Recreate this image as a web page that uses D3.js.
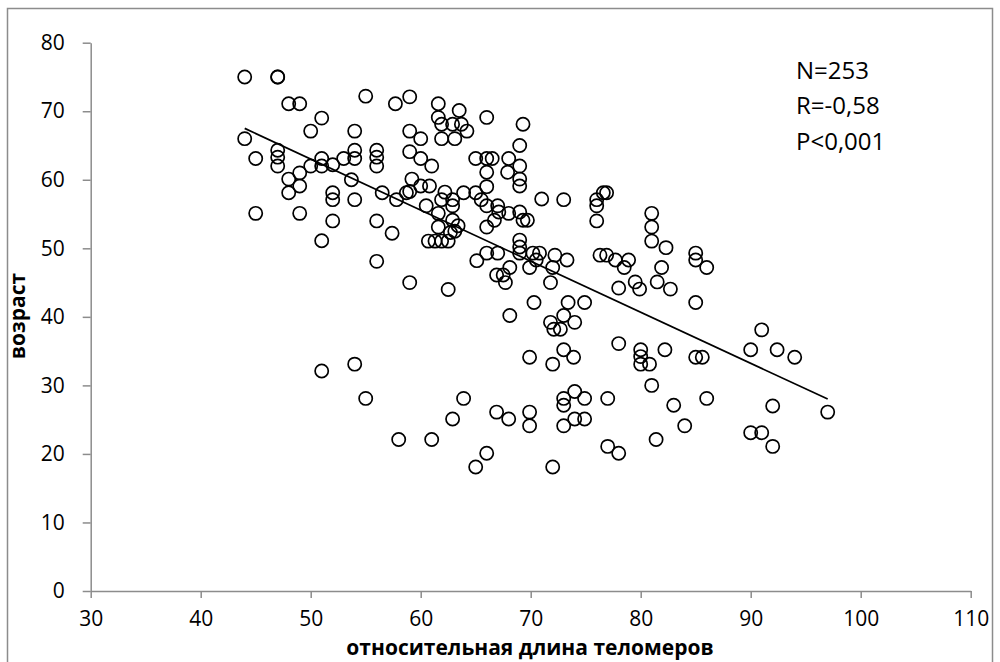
<!DOCTYPE html>
<html>
<head>
<meta charset="utf-8">
<script src="https://cdn.jsdelivr.net/npm/d3@7"></script>
<style>
  body { margin: 0; background: #fff; }
  svg { display: block; }
</style>
</head>
<body>
<svg id="chart" width="1000" height="662"></svg>
<script>

// relative telomere length (x) for every visible point
var telomere = [
  44, 47, 47, 48, 49, 55, 51, 50, 54, 44, 47, 47, 47, 45, 51, 51, 50, 52, 53, 54,
  54, 56, 56, 56, 49, 48, 49, 48, 52, 52, 54, 53.7, 56.5, 45, 49, 52, 56, 51, 56, 59,
  57.7, 61.6, 63.5, 66, 61.6, 61.9, 62.9, 63.7, 64.2, 69.3, 59, 60, 61.9, 63.1, 69, 59, 60, 61, 65, 66,
  66.5, 68, 69, 66, 67.9, 69, 69, 59.2, 60, 60.8, 58.7, 59, 57.8, 62.2, 63.9, 61.9, 62.9, 60.5, 62.9, 65,
  65.5, 66, 66, 67, 67.1, 68, 69, 69.3, 69.7, 71, 61.6, 62.9, 63.4, 61.6, 62.7, 63.1, 57.4, 60.7, 61.3, 61.9,
  62.5, 69, 69, 69, 66, 67, 65.1, 70.2, 70.5, 66, 66.7, 73, 76, 76, 76.6, 76.9, 76, 81, 81, 81,
  82.3, 81.9, 85, 85, 70.8, 72.2, 73.3, 72, 76.3, 76.9, 77.7, 78.9, 78.5, 59, 62.5, 66.9, 67.5, 67.7, 68.1, 69.9,
  70.3, 68.1, 69.9, 71.8, 73.4, 74.9, 73, 71.8, 74, 72.1, 72.7, 78, 80, 80, 80, 80.8, 82.2, 73, 73.9, 72,
  81, 78, 79.5, 79.9, 81.5, 82.7, 85, 85, 85.6, 86, 86, 91, 90, 92.4, 94, 97,
  51, 54, 55, 63.9, 62.9, 66.9, 68, 69.9, 69.9, 58, 61, 66, 65, 74, 73, 73, 74.9, 77, 83, 73,
  74, 74.9, 84, 81.4, 77, 78, 72, 92, 90, 91, 92
];

// age (y) for the same points
var age = [
  75, 75, 75, 71.1, 71.1, 72.2, 69, 67.1, 67.1, 66, 64.3, 63.3, 62, 63.1, 63.1, 62, 62, 62.2, 63.1, 64.3,
  63.1, 64.3, 63.3, 62, 61, 60.1, 59.1, 58.1, 58.1, 57.1, 57.1, 60, 58.1, 55.1, 55.1, 54, 54, 51.1, 48.1, 72.1,
  71.1, 71.1, 70.1, 69.1, 69.1, 68.1, 68.1, 68.1, 67.1, 68.1, 67.1, 66, 66, 66, 65, 64.1, 63.1, 62, 63.1, 63.1,
  63.1, 63.1, 62, 61.1, 61.1, 60.1, 59.1, 60.1, 59.1, 59.1, 58.1, 58.3, 57.1, 58.2, 58.1, 57.1, 57.1, 56.2, 56.2, 58.1,
  57.1, 56.2, 59, 56.2, 55.3, 55.1, 55.3, 54.1, 54.1, 57.2, 55.1, 54.1, 53.3, 53.1, 52.3, 52.5, 52.2, 51.05, 51.05, 51.05,
  51.05, 51.2, 50.2, 49.3, 49.3, 49.3, 48.2, 49.3, 48.3, 53.1, 54.1, 57.1, 57.1, 56.2, 58.1, 58.1, 54, 55.1, 53.1, 51.05,
  50.1, 47.2, 49.3, 48.3, 49.3, 49, 48.3, 47.2, 49, 49, 48.3, 48.3, 47.2, 45, 44, 46.1, 46.1, 45, 47.2, 47.2,
  42.1, 40.2, 34.1, 45, 42.1, 42.1, 40.2, 39.2, 39.2, 38.2, 38.2, 36.1, 35.2, 34.2, 33.1, 33.1, 35.2, 35.2, 34.1, 33.1,
  30, 44.2, 45.1, 44.05, 45.1, 44.05, 42.1, 34.1, 34.1, 47.2, 28.1, 38.1, 35.2, 35.2, 34.1, 26.1,
  32.1, 33.1, 28.1, 28.1, 25.1, 26.1, 25.1, 26.1, 24.1, 22.1, 22.1, 20.1, 18.1, 29.1, 28.1, 27.1, 28.1, 28.1, 27.1, 24.1,
  25.1, 25.1, 24.1, 22.1, 21.1, 20.1, 18.1, 27, 23.1, 23.1, 21.1
];

// linear trend line end points
var trendX = [44, 97];
var trendY = [67.5, 28];

// tick labels
var xTicks = [30, 40, 50, 60, 70, 80, 90, 100, 110];
var yTicks = [0, 10, 20, 30, 40, 50, 60, 70, 80];

// statistics box
var statLines = ["N=253", "R=-0,58", "P<0,001"];

var xTitle = "относительная длина теломеров";
var yTitle = "возраст";

var svg = d3.select("#chart"),
    axisColor = "#8c8c8c",
    font = "'Open Sans', 'Liberation Sans', sans-serif";

// outer frame of the chart
svg.append("rect")
    .attr("x", 7.5)
    .attr("y", 8.5)
    .attr("width", 985)
    .attr("height", 670)
    .attr("fill", "none")
    .attr("stroke", axisColor)
    .attr("stroke-width", 1.5);

var x = d3.scaleLinear()
    .domain([30, 110])
    .range([90.7, 970.7]);

var y = d3.scaleLinear()
    .domain([0, 80])
    .range([591, 42.7]);

// x axis
var gx = svg.append("g")
    .attr("transform", "translate(0," + y(0) + ")")
    .call(d3.axisBottom(x)
        .tickValues(xTicks)
        .tickSize(7)
        .tickSizeOuter(0)
        .tickPadding(13));

// y axis
var gy = svg.append("g")
    .attr("transform", "translate(" + x(30) + ",0)")
    .call(d3.axisLeft(y)
        .tickValues(yTicks)
        .tickSize(8)
        .tickSizeOuter(0)
        .tickPadding(18));

[gx, gy].forEach(function(g) {
  g.select(".domain").attr("stroke", axisColor).attr("stroke-width", 1.5);
  g.selectAll(".tick line").attr("stroke", axisColor).attr("stroke-width", 1.5);
  g.selectAll(".tick text")
      .attr("fill", "#000")
      .style("font-family", font)
      .style("font-size", "21px");
});

// scatter points
var points = telomere.map(function(d, i) { return {x: d, y: age[i]}; });

svg.append("g")
  .selectAll("circle")
  .data(points)
  .enter().append("circle")
    .attr("cx", function(d) { return x(d.x); })
    .attr("cy", function(d) { return y(d.y); })
    .attr("r", 6.6)
    .attr("fill", "none")
    .attr("stroke", "#000")
    .attr("stroke-width", 1.7);

// trend line
svg.append("line")
    .attr("x1", x(trendX[0]))
    .attr("y1", y(trendY[0]))
    .attr("x2", x(trendX[1]))
    .attr("y2", y(trendY[1]))
    .attr("stroke", "#000")
    .attr("stroke-width", 1.7);

// statistics text
svg.append("g")
  .selectAll("text")
  .data(statLines)
  .enter().append("text")
    .attr("x", 796)
    .attr("y", function(d, i) { return 78.5 + i * 35.5; })
    .style("font-family", font)
    .style("font-size", "24px")
    .attr("fill", "#000")
    .text(function(d) { return d; });

// axis titles
svg.append("text")
    .attr("x", 530)
    .attr("y", 655)
    .attr("text-anchor", "middle")
    .style("font-family", font)
    .style("font-size", "21px")
    .style("font-weight", "bold")
    .text(xTitle);

svg.append("text")
    .attr("transform", "translate(25," + 316 + ") rotate(-90)")
    .attr("text-anchor", "middle")
    .style("font-family", font)
    .style("font-size", "21px")
    .style("font-weight", "bold")
    .text(yTitle);

</script>
</body>
</html>
